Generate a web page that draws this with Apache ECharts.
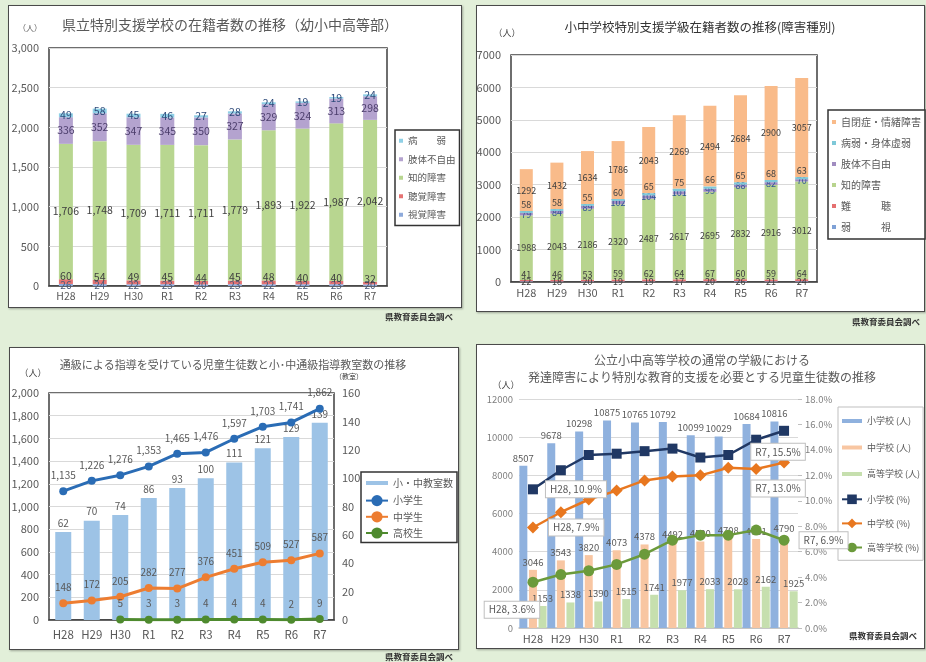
<!DOCTYPE html>
<html><head><meta charset="utf-8">
<script src="https://cdn.jsdelivr.net/npm/echarts@6/dist/echarts.min.js"></script>
<style>
html,body{margin:0;padding:0;background:#e2efd9;width:926px;height:662px;overflow:hidden;}
.panel{position:absolute;background:#fff;border:1.5px solid #4a4a4a;box-shadow:1px 1px 2px rgba(0,0,0,0.3);box-sizing:border-box;}
.chart{position:absolute;}
</style></head><body>
<div class="panel" style="left:8px;top:5px;width:454px;height:303px"></div>
<div class="panel" style="left:476px;top:5px;width:449px;height:307px"></div>
<div class="panel" style="left:9px;top:347px;width:450px;height:303px"></div>
<div class="panel" style="left:476px;top:344px;width:449px;height:305px"></div>
<div id="c1" class="chart" style="left:0;top:0;width:470px;height:331px"></div>
<div id="c2" class="chart" style="left:470px;top:0;width:456px;height:331px"></div>
<div id="c3" class="chart" style="left:0;top:331px;width:470px;height:331px"></div>
<div id="c4" class="chart" style="left:470px;top:331px;width:456px;height:331px"></div>
<script>
const F = '"Noto Sans CJK JP","Noto Sans",sans-serif';
const N = '"Liberation Sans Narrow","Noto Sans CJK JP",sans-serif';
const cats = ['H28','H29','H30','R1','R2','R3','R4','R5','R6','R7'];

// Panel 1: 県立特別支援学校の在籍者数
const p1Names = ['視覚障害','聴覚障害','知的障害','肢体不自由','病　　弱'];
const p1Visual = [26,24,22,23,20,23,22,22,23,20];
const p1Hearing = [60,54,49,45,44,45,48,40,40,32];
const p1Intel = [1706,1748,1709,1711,1711,1779,1893,1922,1987,2042];
const p1Physical = [336,352,347,345,350,327,329,324,313,298];
const p1Sick = [49,58,45,46,27,28,24,19,19,24];

// Panel 2: 小中学校特別支援学級在籍者数
const p2Names = ['弱　　　視','難　　　聴','知的障害','肢体不自由','病弱・身体虚弱','自閉症・情緒障害'];
const p2Vision = [22,18,20,19,19,17,20,26,21,24];
const p2Hearing = [41,46,53,59,62,64,67,60,59,64];
const p2Intel = [1988,2043,2186,2320,2487,2617,2695,2832,2916,3012];
const p2Physical = [79,84,89,102,104,101,95,88,82,70];
const p2Sick = [58,58,55,60,65,75,66,65,68,63];
const p2Autism = [1292,1432,1634,1786,2043,2269,2494,2684,2900,3057];

// Panel 3: 通級
const p3Names = ['小・中教室数','小学生','中学生','高校生'];
const p3Rooms = [62,70,74,86,93,100,111,121,129,139];
const p3Elem = [1135,1226,1276,1353,1465,1476,1597,1703,1741,1862];
const p3Junior = [148,172,205,282,277,376,451,509,527,587];
const p3High = ['-','-',5,3,3,4,4,4,2,9];

// Panel 4: 通常の学級 発達障害
const p4Names = ['小学校 (人)','中学校 (人)','高等学校 (人)','小学校 (%)','中学校 (%)','高等学校 (%)'];
const p4ElemN = [8507,9678,10298,10875,10765,10792,10099,10029,10684,10816];
const p4JuniorN = [3046,3543,3820,4073,4378,4492,4530,4708,4661,4790];
const p4HighN = [1153,1338,1390,1515,1741,1977,2033,2028,2162,1925];
const p4ElemP = [10.9,12.4,13.6,13.7,13.9,14.1,13.4,13.6,14.8,15.5];
const p4JuniorP = [7.9,9.1,10.1,10.8,11.6,11.9,12.0,12.6,12.5,13.0];
const p4HighP = [3.6,4.2,4.5,5.0,5.8,6.9,7.3,7.3,7.7,6.9];

const comma = v => String(v).replace(/\B(?=(\d{3})+(?!\d))/g, ',');
const plain = v => String(v);
function T(x,y,text,size,color,align,weight,family){
  return {type:'text',x:x,y:y,z:10,style:{text:text,fill:color||'#595959',
    font:(weight||'normal')+' '+size+'px '+(family||F),textAlign:align||'center',
    textVerticalAlign:'middle',verticalAlign:'middle'}};
}
function catAxis(lineColor, fontSize, margin, family){
  return {type:'category',data:cats,axisTick:{show:false},
    axisLine:{lineStyle:{color:lineColor,width:1.5}},
    axisLabel:{color:'#595959',fontSize:fontSize,margin:margin,fontFamily:family||F}};
}
function stack(name,data,color,pos,lc,fs,z,dist,fmt){
  return {name:name,type:'bar',stack:'a',data:data,barWidth:14,z:z||2,
    itemStyle:{color:color},
    label:{show:true,position:pos,distance:dist===undefined?0:dist,color:lc||'#404040',fontSize:fs,fontFamily:N,
      formatter:p=>(fmt||comma)(p.value)}};
}

// ---------- Chart 1 ----------
const c1 = echarts.init(document.getElementById('c1'));
c1.setOption({
  animation:false,
  graphic:[
    T(230,25,'県立特別支援学校の在籍者数の推移（幼小中高等部）',14,'#595959'),
    T(30,28,'（人）',8,'#595959'),
    T(453,317,'県教育委員会調べ',8.5,'#333','right','bold')
  ],
  grid:{left:49,top:48,width:338,height:238,show:true,borderColor:'#3f3f3f',borderWidth:1.5},
  legend:{orient:'vertical',left:395,top:130,icon:'rect',itemWidth:4,itemHeight:4,itemGap:9,
    padding:[6,4,6,4],borderColor:'#333',borderWidth:1.5,backgroundColor:'#fff',
    textStyle:{fontSize:9.5,color:'#595959',fontFamily:F},
    data:p1Names.slice().reverse()},
  xAxis:catAxis('#3f3f3f',10.5,5,N),
  yAxis:{type:'value',min:0,max:3000,interval:500,axisLine:{show:false},
    axisLabel:{color:'#595959',fontSize:11,margin:10,fontFamily:N,formatter:v=>comma(v)},
    splitLine:{lineStyle:{color:'#d9d9d9'}}},
  series:[
    stack(p1Names[0],p1Visual,'#8eaadb','inside','#4a5a7a',10),
    stack(p1Names[1],p1Hearing,'#e57373','top','#404040',10.5,2,-2),
    stack(p1Names[2],p1Intel,'#b8d690','inside','#404040',10.5),
    stack(p1Names[3],p1Physical,'#b4a3cf','inside','#4b3d6b',10.5),
    stack(p1Names[4],p1Sick,'#8fd0e6','inside','#2e4a7a',10.5)
  ]
});

// ---------- Chart 2 ----------
const c2 = echarts.init(document.getElementById('c2'));
c2.setOption({
  animation:false,
  graphic:[
    T(230,27,'小中学校特別支援学級在籍者数の推移(障害種別)',12.5,'#333'),
    T(37,33,'（人）',9,'#404040'),
    T(450,322,'県教育委員会調べ',8.5,'#333','right','bold')
  ],
  grid:{left:41,top:55,width:306,height:227,show:true,borderColor:'#3f3f3f',borderWidth:1.5},
  legend:{orient:'vertical',left:358,top:110,icon:'rect',itemWidth:4,itemHeight:4,itemGap:11,
    padding:[7,4,7,4],borderColor:'#333',borderWidth:1.5,backgroundColor:'#fff',
    textStyle:{fontSize:10,color:'#595959',fontFamily:F},
    data:p2Names.slice().reverse()},
  xAxis:catAxis('#3f3f3f',11,5,N),
  yAxis:{type:'value',min:0,max:7000,interval:1000,axisLine:{show:false},
    axisLabel:{color:'#595959',fontSize:11,margin:10,fontFamily:N,formatter:plain},
    splitLine:{lineStyle:{color:'#d9d9d9'}}},
  series:[
    stack(p2Names[0],p2Vision,'#7fa1d6','inside','#404040',9,2,0,plain),
    stack(p2Names[1],p2Hearing,'#e57070','top','#404040',9,2,1,plain),
    stack(p2Names[2],p2Intel,'#b8d48e','inside','#404040',9,2,0,plain),
    stack(p2Names[3],p2Physical,'#a08cc0','inside','#2f5597',9,4,0,plain),
    stack(p2Names[4],p2Sick,'#7ec8d8','top','#404040',9,5,2,plain),
    stack(p2Names[5],p2Autism,'#f9bb8a','inside','#404040',9,1,0,plain)
  ].map(s=>Object.assign(s,{barWidth:13}))
});

// ---------- Chart 3 ----------
const c3 = echarts.init(document.getElementById('c3'));
function lineS(name,data,color){
  return {name:name,type:'line',yAxisIndex:0,data:data,symbol:'circle',symbolSize:8,z:3,
    lineStyle:{color:color,width:3},itemStyle:{color:color},
    label:{show:true,position:'top',distance:7,color:'#595959',fontSize:10,fontFamily:N,
      formatter:p=>comma(p.value)}};
}
c3.setOption({
  animation:false,
  graphic:[
    T(233,34,'通級による指導を受けている児童生徒数と小･中通級指導教室数の推移',11,'#595959'),
    T(33,42,'（人）',9,'#404040'),
    T(349,45,'（教室）',7,'#404040'),
    T(453,326,'県教育委員会調べ',8.5,'#333','right','bold')
  ],
  grid:{left:49,top:62,width:285,height:227,show:true,borderColor:'#3f3f3f',borderWidth:1.5},
  legend:{orient:'vertical',left:361,top:141,itemWidth:22,itemHeight:14,itemGap:5,
    padding:[4,4,4,4],borderColor:'#333',borderWidth:1.5,backgroundColor:'#fff',
    textStyle:{fontSize:10,color:'#595959',fontFamily:F},
    data:[{name:p3Names[0],icon:'path://M0,0 M0,5 L22,5 L22,9 L0,9 Z M22,14'},p3Names[1],p3Names[2],p3Names[3]]},
  xAxis:catAxis('#3f3f3f',11.5,9,N),
  yAxis:[
    {type:'value',min:0,max:2000,interval:200,axisLine:{show:false},
      axisLabel:{color:'#595959',fontSize:11,margin:10,fontFamily:N,formatter:v=>comma(v)},
      splitLine:{lineStyle:{color:'#d9d9d9'}}},
    {type:'value',min:0,max:160,interval:20,axisLine:{show:false},
      axisLabel:{color:'#595959',fontSize:11,margin:8,fontFamily:N},splitLine:{show:false}}
  ],
  series:[
    {name:p3Names[0],type:'bar',yAxisIndex:1,data:p3Rooms,barWidth:16,itemStyle:{color:'#9dc3e6'},
      label:{show:true,position:'top',distance:4,color:'#595959',fontSize:10,fontFamily:N}},
    lineS(p3Names[1],p3Elem,'#2a6cb5'),
    lineS(p3Names[2],p3Junior,'#ed7d31'),
    lineS(p3Names[3],p3High,'#4e8a2e')
  ]
});

// ---------- Chart 4 ----------
const c4 = echarts.init(document.getElementById('c4'));
const calloutStyle = {show:true,backgroundColor:'#fff',borderColor:'#bfbfbf',borderWidth:1,
  padding:[3,4],fontSize:10,color:'#595959',fontFamily:F};
function pctData(arr,first,last){
  return arr.map((v,i)=>{
    const txt = cats[i]+', '+v.toFixed(1)+'%';
    if(i===0) return {value:v,label:Object.assign({},calloutStyle,first,{formatter:txt})};
    if(i===arr.length-1) return {value:v,label:Object.assign({},calloutStyle,last,{formatter:txt})};
    return v;
  });
}
function barN(name,data,color){
  return {name:name,type:'bar',yAxisIndex:0,data:data,barWidth:8,barGap:'20%',itemStyle:{color:color},
    label:{show:true,position:'top',distance:3,color:'#595959',fontSize:9.5,fontFamily:F,formatter:p=>plain(p.value)}};
}
function lineP(name,data,color,symbol,size){
  return {name:name,type:'line',yAxisIndex:1,data:data,symbol:symbol,symbolSize:size,z:4,
    lineStyle:{color:color,width:2.5},itemStyle:{color:color},label:{show:false}};
}
const barIcon = 'path://M0,0 M0,4 L20,4 L20,8 L0,8 Z M20,12';
c4.setOption({
  animation:false,
  graphic:[
    T(232,29,'公立小中高等学校の通常の学級における',12,'#595959'),
    T(232,46,'発達障害により特別な教育的支援を必要とする児童生徒数の推移',12,'#595959'),
    T(36,54,'（人）',9,'#404040'),
    T(413,305,'県教育委員会調べ',8.5,'#333','center','bold')
  ],
  grid:{left:49,top:68,width:279,height:229},
  legend:{orient:'vertical',left:368,top:76,itemWidth:20,itemHeight:12,itemGap:14.5,
    padding:[8,3,8,3],borderColor:'#bfbfbf',borderWidth:1,backgroundColor:'#fff',
    textStyle:{fontSize:9,color:'#595959',fontFamily:F},
    data:[
      {name:p4Names[0],icon:barIcon},
      {name:p4Names[1],icon:barIcon},
      {name:p4Names[2],icon:barIcon},
      p4Names[3],p4Names[4],p4Names[5]]},
  xAxis:catAxis('#bfbfbf',11,5,F),
  yAxis:[
    {type:'value',min:0,max:12000,interval:2000,axisLine:{show:false},
      axisLabel:{color:'#7f7f7f',fontSize:9.5,margin:6,fontFamily:F,formatter:plain},
      splitLine:{lineStyle:{color:'#d9d9d9'}}},
    {type:'value',min:0,max:18,interval:2,axisLine:{show:false},
      axisTick:{show:true,length:4,lineStyle:{color:'#bfbfbf'}},
      axisLabel:{color:'#7f7f7f',fontSize:9.5,margin:7,fontFamily:F,formatter:v=>v.toFixed(1)+'%'},
      splitLine:{show:false}}
  ],
  series:[
    barN(p4Names[0],p4ElemN,'#8fb1de'),
    barN(p4Names[1],p4JuniorN,'#f8c6a2'),
    barN(p4Names[2],p4HighN,'#c6dfae'),
    lineP(p4Names[3],pctData(p4ElemP,{position:'right',distance:8},{position:'bottom',distance:8,offset:[-6,0]}),'#203864','rect',10),
    lineP(p4Names[4],pctData(p4JuniorP,{position:'right',distance:10},{position:'bottom',distance:12,offset:[-6,0]}),'#e8771f','diamond',12),
    lineP(p4Names[5],pctData(p4HighP,{position:'bottom',distance:14,offset:[-21,0]},{position:'right',distance:10}),'#6b9a3b','circle',11)
  ]
});
</script>
</body></html>
